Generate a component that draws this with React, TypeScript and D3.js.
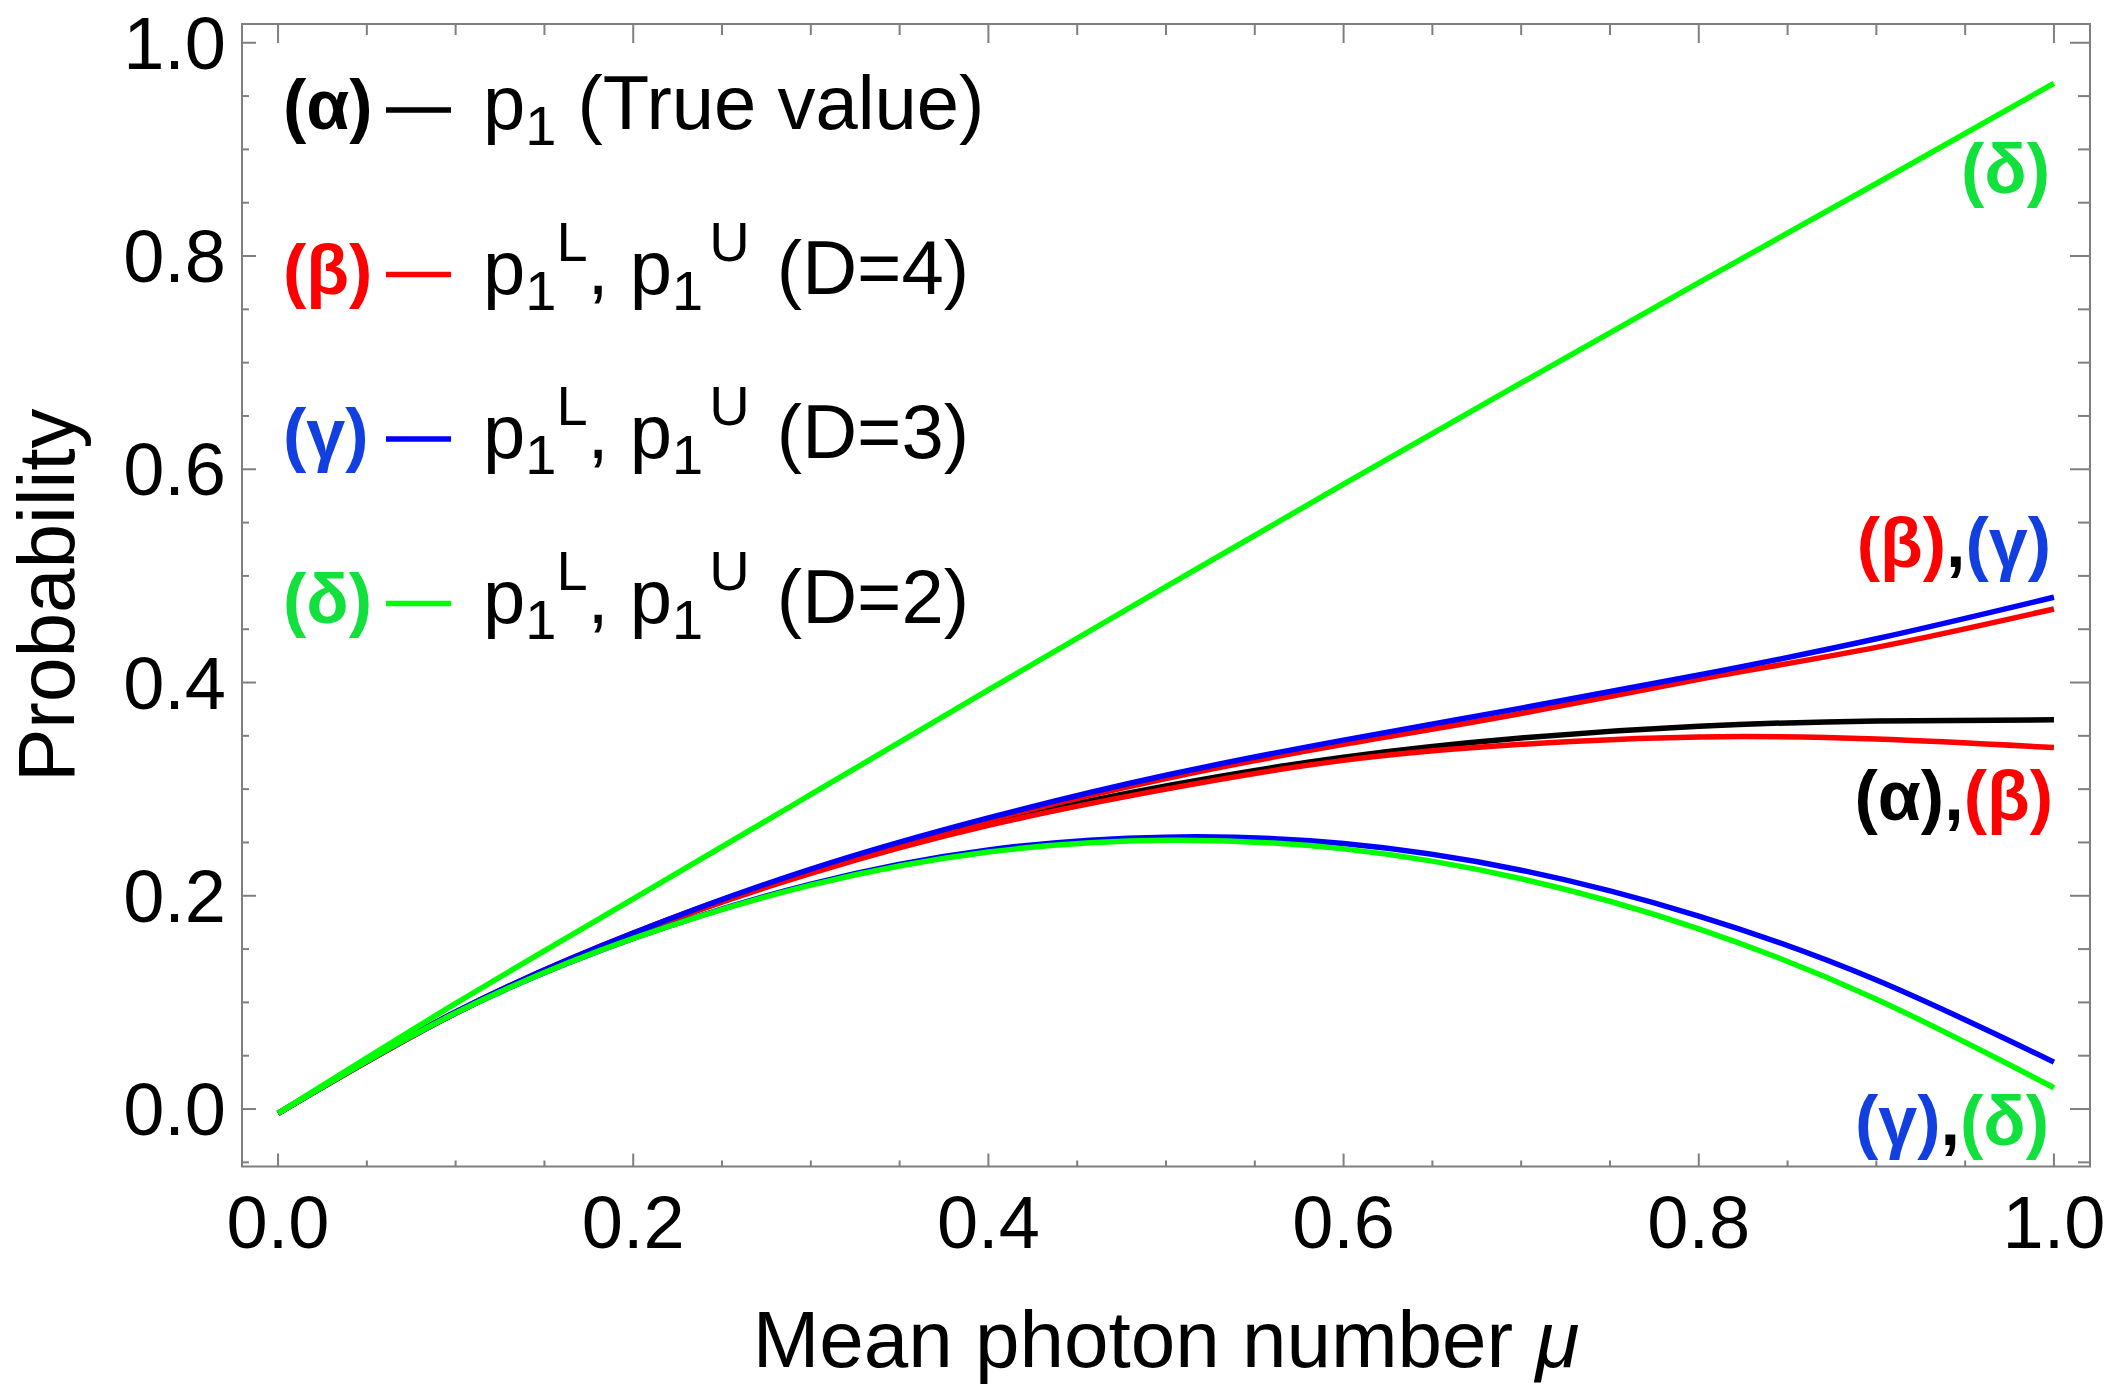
import * as d3 from "d3";

// mean photon number samples
const MU = [0, 0.1, 0.2, 0.3, 0.4, 0.5, 0.6, 0.7, 0.8, 0.9, 1.0];

// (α) true value p1
const P1_TRUE = [-0.004, 0.09, 0.164, 0.222, 0.268, 0.303, 0.33, 0.348, 0.359, 0.364, 0.365];
// (β) D=4 bounds
const P1_D4_LOWER = [-0.004, 0.09, 0.164, 0.221, 0.266, 0.3, 0.327, 0.342, 0.349, 0.347, 0.339];
const P1_D4_UPPER = [-0.004, 0.091, 0.165, 0.224, 0.271, 0.31, 0.342, 0.371, 0.403, 0.433, 0.469];
// (γ) D=3 bounds
const P1_D3_LOWER = [-0.004, 0.09, 0.16, 0.211, 0.243, 0.255, 0.249, 0.224, 0.181, 0.121, 0.044];
const P1_D3_UPPER = [-0.004, 0.091, 0.165, 0.225, 0.273, 0.313, 0.346, 0.376, 0.407, 0.441, 0.48];
// (δ) D=2 bounds
const P1_D2_LOWER = [-0.004, 0.09, 0.16, 0.21, 0.241, 0.252, 0.244, 0.216, 0.169, 0.103, 0.02];
const P1_D2_UPPER = [-0.004, 0.099, 0.197, 0.295, 0.393, 0.49, 0.586, 0.681, 0.775, 0.868, 0.962];

const X_TICKS = [0, 0.2, 0.4, 0.6, 0.8, 1.0];
const Y_TICKS = [0, 0.2, 0.4, 0.6, 0.8, 1.0];

const W = 2112;
const H = 1400;
const FONT = "'Liberation Sans', Arial, Helvetica, sans-serif";
const FRAME = "#7f7f7f";

const C_BLACK = "#000000";
const C_RED = "#ff0000";
const C_BLUE = "#0000ff";
const C_GREEN = "#00ff00";
// label text colours are a bit softer than the lines
const T_BLUE = "#1240e0";
const T_GREEN = "#12e03c";

const x = d3.scaleLinear().domain([-0.0203, 1.0203]).range([242, 2090]);
const y = d3.scaleLinear().domain([-0.0539, 1.0176]).range([1166.5, 24]);

const series = [
    { key: "true", values: P1_TRUE, color: C_BLACK },
    { key: "d4l", values: P1_D4_LOWER, color: C_RED },
    { key: "d4u", values: P1_D4_UPPER, color: C_RED },
    { key: "d3l", values: P1_D3_LOWER, color: C_BLUE },
    { key: "d3u", values: P1_D3_UPPER, color: C_BLUE },
    { key: "d2l", values: P1_D2_LOWER, color: C_GREEN },
    { key: "d2u", values: P1_D2_UPPER, color: C_GREEN },
];

const line = d3.line<number>()
    .x((_, i) => x(MU[i]))
    .y(d => y(d))
    .curve(d3.curveNatural);

const fmt = d3.format(".1f");

const step = (lo: number, hi: number, s: number) =>
    d3.range(Math.round(lo / s), Math.round(hi / s) + 1).map(k => +(k * s).toFixed(4));

const isMajor = (v: number) => Math.abs(v * 5 - Math.round(v * 5)) < 1e-6;
const xAll = step(0, 1, 0.05);
const yAll = step(-0.05, 1, 0.05);

const legendRows = [
    { tag: "(α)", tagColor: C_BLACK, lineColor: C_BLACK, d: null as string | null },
    { tag: "(β)", tagColor: C_RED, lineColor: C_RED, d: "4" },
    { tag: "(γ)", tagColor: T_BLUE, lineColor: C_BLUE, d: "3" },
    { tag: "(δ)", tagColor: T_GREEN, lineColor: C_GREEN, d: "2" },
];

const App = () => {
    const x0 = x.range()[0], x1 = x.range()[1];
    const yb = y.range()[0], yt = y.range()[1];

    return (
        <div style={{ position: "absolute", left: 0, top: 0, background: "#fff" }}>
            <svg width={W} height={H} viewBox={`0 0 ${W} ${H}`} style={{ display: "block" }}>
                <rect width={W} height={H} fill="#fff" />

                {/* curves */}
                <g fill="none" strokeWidth={5.5} strokeLinejoin="round">
                    {series.map(s => (
                        <path key={s.key} d={line(s.values) ?? ""} stroke={s.color} />
                    ))}
                </g>

                {/* frame + ticks */}
                <g stroke={FRAME} strokeWidth={2} fill="none">
                    <rect x={x0} y={yt} width={x1 - x0} height={yb - yt} />
                    {xAll.map(v => {
                        const m = isMajor(v);
                        return (
                            <g key={"xt" + v}>
                                <line x1={x(v)} x2={x(v)} y1={yb} y2={yb - (m ? 13 : 6)} />
                                <line x1={x(v)} x2={x(v)} y1={yt} y2={yt + (m ? 19 : 11)} />
                            </g>
                        );
                    })}
                    {yAll.map(v => {
                        const m = isMajor(v);
                        return (
                            <g key={"yt" + v}>
                                <line x1={x0} x2={x0 + (m ? 14 : 7)} y1={y(v)} y2={y(v)} />
                                <line x1={x1} x2={x1 - (m ? 20 : 12)} y1={y(v)} y2={y(v)} />
                            </g>
                        );
                    })}
                </g>

                {/* tick labels */}
                <g fontFamily={FONT} fontSize={74} fill="#000">
                    {X_TICKS.map(v => (
                        <text key={"xl" + v} x={x(v)} y={1248} textAnchor="middle">{fmt(v)}</text>
                    ))}
                    {Y_TICKS.map(v => (
                        <text key={"yl" + v} x={226} y={y(v) + 26} textAnchor="end">{fmt(v)}</text>
                    ))}
                </g>

                {/* axis titles */}
                <text x={(x0 + x1) / 2} y={1367} textAnchor="middle" fontFamily={FONT} fontSize={80}>
                    Mean photon number <tspan fontStyle="italic">μ</tspan>
                </text>
                <text
                    transform={`translate(74,${(yt + yb) / 2}) rotate(-90)`}
                    textAnchor="middle"
                    fontFamily={FONT}
                    fontSize={80}
                >
                    Probability
                </text>

                {/* legend */}
                {legendRows.map((r, i) => {
                    const base = 129 + i * 164.5;
                    return (
                        <g key={r.tag} fontFamily={FONT} style={{ whiteSpace: "pre" }}>
                            <text x={283} y={base} fontSize={70} fontWeight="bold" fill={r.tagColor}>{r.tag}</text>
                            <line x1={386} x2={451} y1={base - 19} y2={base - 19} stroke={r.lineColor} strokeWidth={5.5} />
                            {r.d === null ? (
                                <text x={483} y={base} fontSize={76}>
                                    <tspan>p</tspan>
                                    <tspan fontSize={56} dy={16}>1</tspan>
                                    <tspan dy={-16}> (True value)</tspan>
                                </text>
                            ) : (
                                <text x={483} y={base} fontSize={76}>
                                    <tspan>p</tspan>
                                    <tspan fontSize={56} dy={16}>1</tspan>
                                    <tspan fontSize={56} dy={-49}>L</tspan>
                                    <tspan dy={33}>, p</tspan>
                                    <tspan fontSize={56} dy={16}>1</tspan>
                                    <tspan fontSize={56} dy={-49} dx={6}>U</tspan>
                                    <tspan dy={33} dx={6}>{` (D=${r.d})`}</tspan>
                                </text>
                            )}
                        </g>
                    );
                })}

                {/* curve annotations */}
                <g fontFamily={FONT} fontSize={70} fontWeight="bold" textAnchor="end">
                    <text x={2050} y={193} fill={T_GREEN}>(δ)</text>
                    <text x={2051} y={567}>
                        <tspan fill={C_RED}>(β)</tspan>
                        <tspan fill="#000">,</tspan>
                        <tspan fill={T_BLUE}>(γ)</tspan>
                    </text>
                    <text x={2053} y={820}>
                        <tspan fill="#000">(α),</tspan>
                        <tspan fill={C_RED}>(β)</tspan>
                    </text>
                    <text x={2049} y={1145}>
                        <tspan fill={T_BLUE}>(γ)</tspan>
                        <tspan fill="#000">,</tspan>
                        <tspan fill={T_GREEN}>(δ)</tspan>
                    </text>
                </g>
            </svg>
        </div>
    );
};

export default App;
